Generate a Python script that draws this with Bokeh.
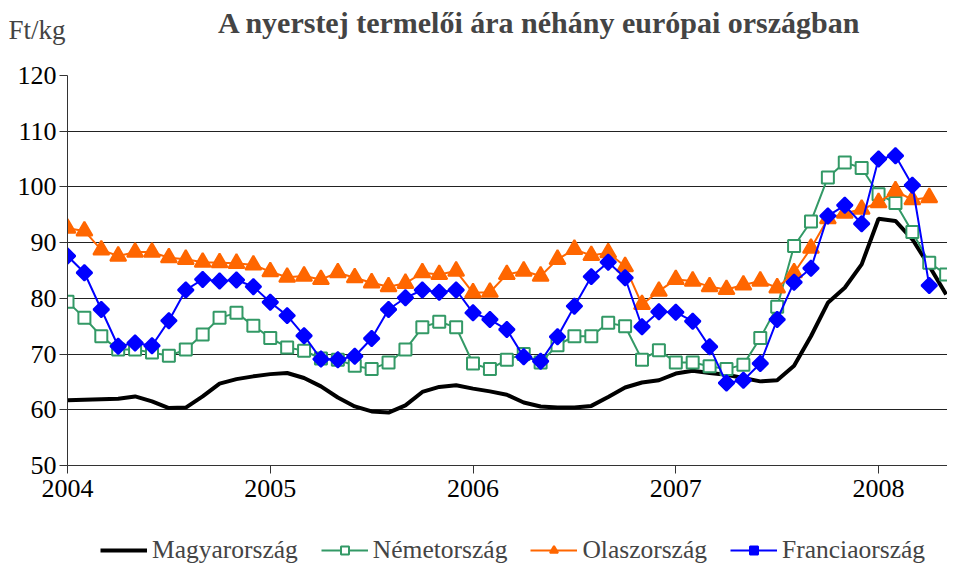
from bokeh.plotting import figure
from bokeh.layouts import column
from bokeh.models import FixedTicker, Legend, LegendItem, Label, Range1d
from bokeh.embed import file_html
from bokeh.resources import INLINE
import math

title_text = "A nyerstej termelői ára néhány európai országban"
unit_text = "Ft/kg"
start_year = 2004
year_ticks = [2004, 2005, 2006, 2007, 2008]
y_ticks = [50, 60, 70, 80, 90, 100, 110, 120]
series_names = ["Magyarország", "Németország", "Olaszország", "Franciaország"]

# monthly values from Jan 2004
magyar = [61.7, 61.8, 61.9, 62.0, 62.4, 61.5, 60.3, 60.4, 62.4, 64.7,
          65.5, 66.0, 66.4, 66.6, 65.7, 64.2, 62.2, 60.6, 59.7, 59.5,
          60.8, 63.2, 64.1, 64.4, 63.8, 63.3, 62.7, 61.3, 60.6, 60.4,
          60.4, 60.7, 62.3, 64.0, 64.9, 65.3, 66.5, 67.0, 66.6, 66.3,
          65.7, 65.1, 65.3, 67.9, 73.2, 79.2, 81.9, 86.1, 94.3, 93.9,
          90.6, 85.8, 80.7]
nemet = [79.4, 76.5, 73.2, 70.8, 70.8, 70.3, 69.7, 70.8, 73.5, 76.5,
         77.4, 75.1, 72.9, 71.2, 70.6, 69.2, 69.0, 67.9, 67.3, 68.5,
         70.8, 74.8, 75.8, 74.8, 68.3, 67.3, 69.0, 70.0, 68.5, 71.6,
         73.2, 73.2, 75.6, 75.0, 69.0, 70.7, 68.5, 68.5, 67.8, 67.3,
         68.1, 72.9, 78.5, 89.4, 93.8, 101.7, 104.4, 103.4, 98.7, 97.1,
         91.9, 86.4, 84.3]
olasz = [92.6, 92.1, 88.7, 87.6, 88.3, 88.3, 87.3, 87.0, 86.5, 86.4,
         86.3, 86.0, 84.8, 83.8, 84.0, 83.4, 84.6, 83.7, 82.8, 82.1,
         82.7, 84.6, 84.3, 84.9, 81.0, 81.1, 84.3, 84.9, 84.0, 87.0,
         88.8, 87.7, 88.2, 85.7, 78.9, 81.3, 83.4, 83.1, 82.1, 81.6,
         82.4, 83.1, 81.9, 84.6, 89.0, 94.3, 95.3, 96.0, 97.2, 99.3,
         97.7, 98.1]
francia = [87.6, 84.6, 78.0, 71.4, 72.0, 71.5, 76.0, 81.5, 83.4, 83.1,
           83.3, 82.1, 79.3, 76.9, 73.3, 69.1, 69.0, 69.6, 72.8, 78.0,
           80.1, 81.5, 81.1, 81.5, 77.4, 76.2, 74.4, 69.5, 68.7, 73.1,
           78.6, 83.9, 86.5, 83.7, 74.9, 77.6, 77.5, 75.9, 71.3, 64.8,
           65.3, 68.3, 76.2, 82.9, 85.4, 94.8, 96.7, 93.4, 105.0, 105.6,
           100.3, 82.3]


def months_x(values):
    return [start_year + i / 12 for i in range(len(values))]


FONT = "Liberation Serif"
styles = [
    dict(color="black", width=4, marker=None),
    dict(color="#339966", width=2, marker="square", size=12, fill="white", angle=0),
    dict(color="#FF6600", width=2, marker="triangle", size=16, fill="#FF6600", angle=0),
    dict(color="#0000FF", width=2, marker="square", size=11, fill="#0000FF",
         angle=math.pi / 4),
]
series = [magyar, nemet, olasz, francia]


def blank_figure(height):
    f = figure(width=947, height=height, output_backend="svg",
               toolbar_location=None, x_range=Range1d(0, 947),
               y_range=Range1d(0, height), x_axis_type=None, y_axis_type=None,
               min_border_left=0, min_border_right=0, min_border_top=0,
               min_border_bottom=0)
    f.frame_align = False
    f.outline_line_color = None
    f.grid.grid_line_color = None
    return f


def draw_series(fig, vals, st):
    xs = months_x(vals)
    rs = [fig.line(xs, vals, line_color=st["color"], line_width=st["width"])]
    if st["marker"]:
        rs.append(fig.scatter(xs, vals, marker=st["marker"], size=st["size"],
                              angle=st["angle"], line_color=st["color"],
                              line_width=2, fill_color=st["fill"]))
    return rs


# header strip holding the unit label and the title
top = blank_figure(60)
top.add_layout(Label(x=8, y=31, text=unit_text, text_font=FONT,
                     text_font_size="27px", text_baseline="middle",
                     text_align="left"))
top.add_layout(Label(x=539, y=38, text=title_text, text_font=FONT,
                     text_font_size="30px", text_font_style="bold",
                     text_baseline="middle", text_align="center"))

p = figure(frame_width=880, frame_height=390, output_backend="svg",
           toolbar_location=None,
           x_range=Range1d(2004, 2008.34), y_range=Range1d(50, 120),
           min_border_left=67, min_border_right=0, min_border_top=15,
           min_border_bottom=50)
p.frame_align = False
p.outline_line_color = None

p.xgrid.grid_line_color = None
p.ygrid.grid_line_color = "#222222"
p.ygrid.grid_line_width = 1
p.ygrid.ticker = FixedTicker(ticks=y_ticks)

p.yaxis.ticker = FixedTicker(ticks=y_ticks)
p.xaxis.ticker = FixedTicker(ticks=year_ticks)
for ax in (p.xaxis[0], p.yaxis[0]):
    ax.axis_line_color = "#333333"
    ax.axis_line_width = 1
    ax.major_tick_line_color = "#333333"
    ax.major_tick_in = 0
    ax.major_tick_out = 8
    ax.minor_tick_line_color = None
    ax.major_label_text_font = FONT
    ax.major_label_text_font_size = "26px"
    ax.major_label_text_color = "black"
p.xaxis.major_label_standoff = 6
p.yaxis.major_label_standoff = 3

for vals, st in zip(series, styles):
    draw_series(p, vals, st)

# legend strip below the chart: same series, outside this strip's own ranges,
# so only the legend keys are visible
leg = blank_figure(53)
items = []
for name, vals, st in zip(series_names, series, styles):
    items.append(LegendItem(label=name, renderers=draw_series(leg, vals, st)))
legend = Legend(items=items, orientation="horizontal", location=(100, 3))
legend.label_text_font = FONT
legend.label_text_font_size = "25.5px"
legend.glyph_width = 47
legend.glyph_height = 20
legend.label_standoff = 5
legend.spacing = 23
legend.padding = 0
legend.margin = 0
legend.border_line_color = None
legend.background_fill_alpha = 0
leg.add_layout(legend, "center")

layout = column(top, p, leg, spacing=0)
open("out.html", "w").write(file_html(layout, INLINE))
